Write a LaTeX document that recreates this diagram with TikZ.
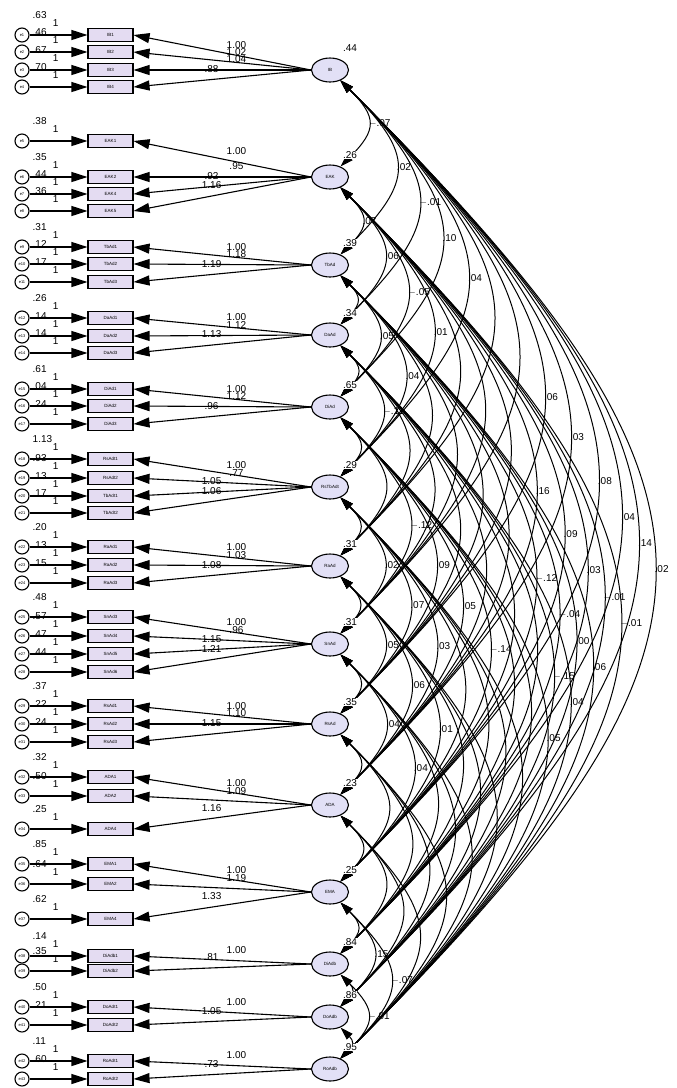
\documentclass[tikz,border=0pt]{standalone}
\usepackage{fontspec}
\setmainfont{Liberation Sans}
\usetikzlibrary{shapes.geometric,arrows.meta}
\definecolor{obsfill}{RGB}{228,220,242}
\definecolor{latfill}{RGB}{226,224,246}
\tikzset{
  obs/.style={draw, line width=1.1pt, fill=obsfill, minimum width=45pt, minimum height=13pt, inner sep=0pt, font=\fontsize{4.5}{5}\selectfont},
  lat/.style={ellipse, draw, line width=1.1pt, fill=latfill, minimum width=37pt, minimum height=24pt, inner sep=0pt, font=\fontsize{4.5}{5}\selectfont},
  err/.style={circle, draw, line width=1.1pt, minimum size=14pt, inner sep=0pt, font=\fontsize{4}{4}\selectfont},
  regarr/.style={line width=1.1pt, -{Triangle[length=16pt,width=10pt]}},
  covarc/.style={line width=1pt, {Triangle[length=13pt,width=8pt]}-{Triangle[length=13pt,width=8pt]}},
  num/.style={font=\fontsize{10}{10}\selectfont, inner sep=0.5pt},
}
\begin{document}
\begin{tikzpicture}[x=1pt,y=1pt]
\useasboundingbox (0,0) rectangle (677,-1088);
% latent factors
\foreach \n/\t/\y in {1/IB/70, 2/EAK/177, 3/TbAd/265, 4/DaAd/335, 5/DiAd/407, 6/RsTbAdt/487,
    7/RaAd/566, 8/SnAd/644, 9/RsAd/724, 10/ADA/805, 11/EMA/892, 12/DiAdb/964, 13/DoAdb/1017, 14/RoAdb/1069}
  \node[lat] (L\n) at (330,-\y) {\t};
% indicators, errors, loadings
\foreach \k/\t/\y/\n/\w/\v/\p in {1/IB1/35/1/1.00/.63/.42, 2/IB2/52/1/1.02/.46/.42,
    3/IB3/70/1/1.04/.67/.42, 4/IB4/87/1/.88/.70/.56,
    5/EAK1/141/2/1.00/.38/.42, 6/EAK2/177/2/.95/.35/.42, 7/EAK4/194/2/.92/.44/.56, 8/EAK5/211/2/1.16/.36/.56,
    9/TbAd1/247/3/1.00/.31/.42, 10/TbAd2/264/3/1.18/.12/.42, 11/TbAd3/282/3/1.19/.17/.56,
    12/DaAd1/318/4/1.00/.26/.42, 13/DaAd2/336/4/1.12/.14/.42, 14/DaAd3/353/4/1.13/.14/.56,
    15/DiAd1/389/5/1.00/.61/.42, 16/DiAd2/406/5/1.12/.04/.42, 17/DiAd3/424/5/.96/.24/.56,
    18/RsAdt1/459/6/1.00/1.13/.42, 19/RsAdt2/478/6/.77/.93/.42, 20/TbAdt1/496/6/1.05/.13/.56, 21/TbAdt2/513/6/1.06/.17/.56,
    22/RaAd1/547/7/1.00/.20/.42, 23/RaAd2/565/7/1.03/.13/.42, 24/RaAd3/583/7/1.08/.15/.56,
    25/SnAd3/617/8/1.00/.48/.42, 26/SnAd4/636/8/.96/.57/.42, 27/SnAd5/654/8/1.15/.47/.56, 28/SnAd6/672/8/1.21/.44/.56,
    29/RsAd1/706/9/1.00/.37/.42, 30/RsAd2/724/9/1.10/.22/.42, 31/RsAd3/742/9/1.15/.24/.56,
    32/ADA1/777/10/1.00/.32/.42, 33/ADA2/796/10/1.09/.50/.42, 34/ADA4/829/10/1.16/.25/.56,
    35/EMA1/864/11/1.00/.85/.42, 36/EMA2/884/11/1.19/.64/.42, 37/EMA4/919/11/1.33/.62/.56,
    38/DiAdb1/956/12/1.00/.14/.42, 39/DiAdb2/971/12/.81/.35/.56,
    40/DoAdt1/1007/13/1.00/.50/.42, 41/DoAdt2/1025/13/1.05/.21/.56,
    42/RoAdt1/1061/14/1.00/.11/.42, 43/RoAdt2/1079/14/.73/.60/.56}{
  \node[obs] (O\k) at (110.5,-\y) {\t};
  \node[err] (E\k) at (22,-\y) {e\k};
  \draw[regarr] (E\k) -- node[num, pos=0.45, above=7pt]{1} (O\k);
  \node[num, anchor=base west] at (32,-\y+17) {\v};
  \draw[regarr] (L\n.west) -- node[num, pos=\p, above=6pt]{\w} (O\k.east);
}
% covariances
\foreach \i in {1,...,13}{
  \pgfmathtruncatemacro\s{\i+1}
  \foreach \j in {\s,...,14}
    \draw[covarc] (L\i) to[bend left=45, looseness=1.55] (L\j);
}
\foreach \i/\j/\c in {1/2/$-$.07, 1/3/.02, 1/4/$-$.01, 1/5/.10, 1/6/.04, 1/9/.06, 1/10/.03, 1/11/.08,
    1/12/.04, 1/13/.14, 1/14/.02, 2/3/.07, 2/4/.06, 2/5/$-$.05, 2/6/.01, 2/10/.16, 2/11/.09,
    2/12/.03, 2/13/$-$.01, 2/14/$-$.01, 3/5/.05, 3/6/.04, 3/11/$-$.12, 3/12/$-$.04, 3/13/.00,
    3/14/.06, 4/6/$-$.11, 4/13/$-$.15, 4/14/.04, 5/8/$-$.12, 5/9/.09, 5/10/.05, 5/11/$-$.14,
    5/14/.05, 6/8/.02, 6/9/.07, 6/10/.03, 7/9/.05, 7/10/.06, 7/11/.01, 8/10/.04, 8/11/.04,
    11/13/.15, 11/14/$-$.07, 12/14/$-$.01}
  \path (L\i) to[bend left=45, looseness=1.55] node[num, anchor=west]{\c} (L\j);
% factor variances
\foreach \n/\v in {1/.44, 2/.26, 3/.39, 4/.34, 5/.65, 6/.29, 7/.31, 8/.31, 9/.35, 10/.23,
    11/.25, 12/.84, 13/.86, 14/.95}
  \node[num, fill=white] at ([shift={(20,22)}]L\n.center) {\v};
\end{tikzpicture}
\end{document}
